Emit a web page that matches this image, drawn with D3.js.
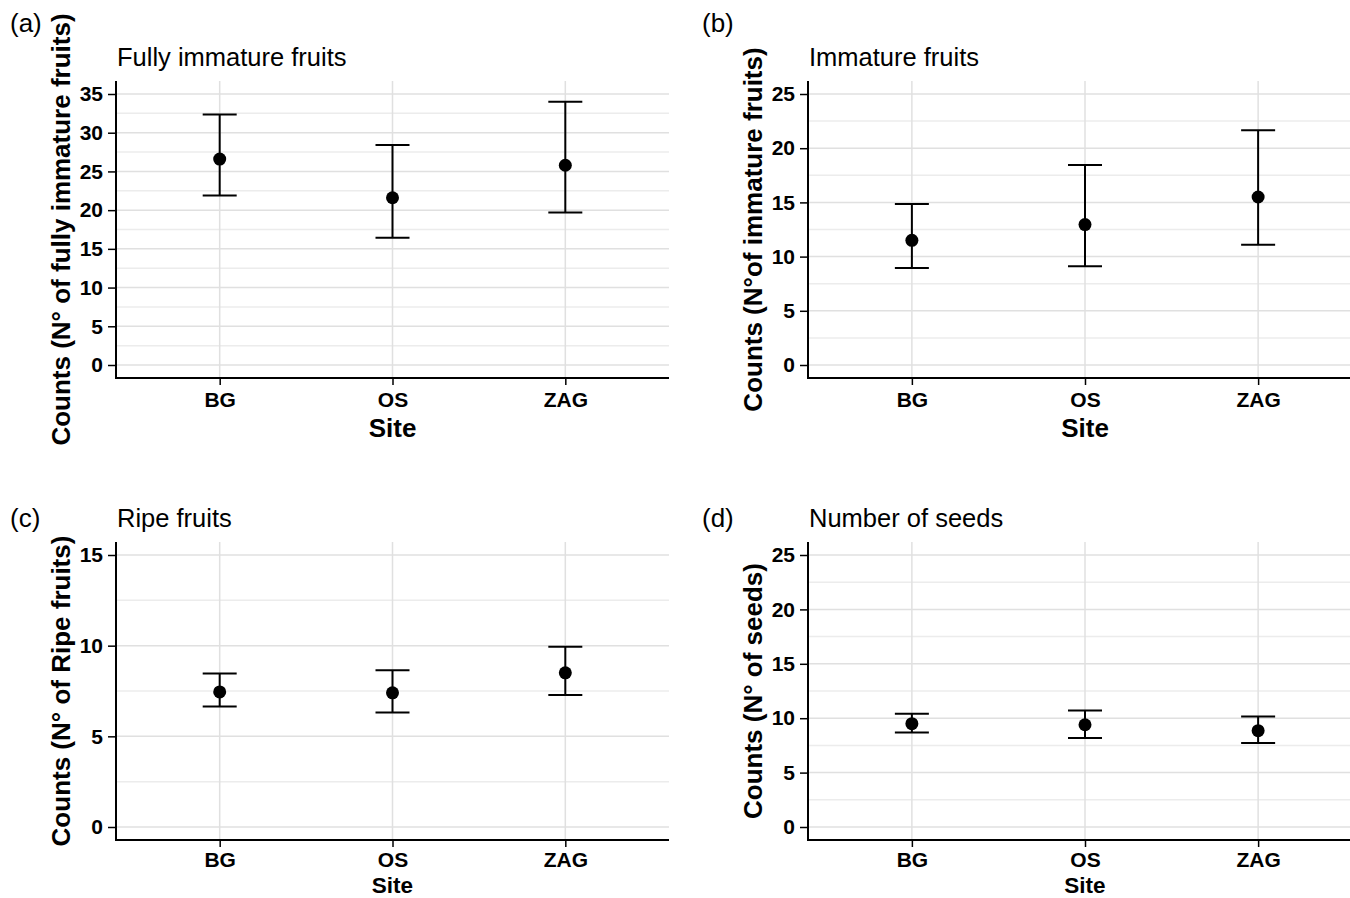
<!DOCTYPE html>
<html>
<head>
<meta charset="utf-8">
<script src="https://cdn.jsdelivr.net/npm/d3@7"></script>
<style>
  body { margin: 0; background: #fff; }
  svg { display: block; font-family: "Liberation Sans", Arial, Helvetica, sans-serif; }
</style>
</head>
<body>
<div id="chart-area"></div>
<script>
/* Fruit and seed counts by site, four panels */

// categories
const sites = ["BG", "OS", "ZAG"];

// panel texts
const panelTags = ["(a)", "(b)", "(c)", "(d)"];
const panelTitles = ["Fully immature fruits", "Immature fruits", "Ripe fruits", "Number of seeds"];
const yTitles = [
    "Counts (N° of fully immature fruits)",
    "Counts (N°of immature fruits)",
    "Counts (N° of Ripe fruits)",
    "Counts (N° of seeds)"
];
const xTitle = "Site";

// y tick labels per panel
const ticksA = [0, 5, 10, 15, 20, 25, 30, 35];
const ticksB = [0, 5, 10, 15, 20, 25];
const ticksC = [0, 5, 10, 15];
const ticksD = [0, 5, 10, 15, 20, 25];

// means and confidence limits (BG, OS, ZAG)
const meanA = [26.6, 21.6, 25.8];
const lowA = [21.9, 16.45, 19.7];
const highA = [32.35, 28.4, 34.0];

const meanB = [11.5, 12.95, 15.5];
const lowB = [8.95, 9.1, 11.1];
const highB = [14.85, 18.45, 21.65];

const meanC = [7.45, 7.4, 8.5];
const lowC = [6.65, 6.32, 7.28];
const highC = [8.47, 8.65, 9.94];

const meanD = [9.5, 9.4, 8.85];
const lowD = [8.68, 8.18, 7.72];
const highD = [10.42, 10.7, 10.15];

const panelTicks = [ticksA, ticksB, ticksC, ticksD];
const panelMeans = [meanA, meanB, meanC, meanD];
const panelLows = [lowA, lowB, lowC, lowD];
const panelHighs = [highA, highB, highC, highD];

// layout
const W = 1350, H = 898;
const frames = [
    { left: 116, right: 669, top: 81, bottom: 378, tagY: 32, siteY: 437, siteSize: 26, tickPad: 7 },
    { left: 808, right: 1362, top: 81, bottom: 378, tagY: 32, siteY: 437, siteSize: 26, tickPad: 7 },
    { left: 116, right: 669, top: 542, bottom: 840, tagY: 527, siteY: 893, siteSize: 22.5, tickPad: 5 },
    { left: 808, right: 1362, top: 542, bottom: 840, tagY: 527, siteY: 893, siteSize: 22.5, tickPad: 5 }
];
const PAD = 13;

const svg = d3.select("#chart-area").append("svg")
    .attr("width", W)
    .attr("height", H);

svg.append("rect")
    .attr("width", W)
    .attr("height", H)
    .attr("fill", "#fff");

frames.forEach((f, i) => {
    const ticks = panelTicks[i];
    const step = ticks[1] - ticks[0];
    const yMax = ticks[ticks.length - 1];

    const x = d3.scaleLinear()
        .domain([0.4, 3.6])
        .range([f.left, f.right]);

    const y = d3.scaleLinear()
        .domain([0, yMax])
        .range([f.bottom - PAD, f.top + PAD]);

    const g = svg.append("g");

    // minor grid (half steps)
    const minor = d3.range(step / 2, yMax, step);
    g.selectAll(".minor")
        .data(minor)
        .enter().append("line")
        .attr("x1", f.left).attr("x2", f.right)
        .attr("y1", d => y(d)).attr("y2", d => y(d))
        .attr("stroke", "#ececec")
        .attr("stroke-width", 1.5);

    // major grid
    g.selectAll(".major")
        .data(ticks)
        .enter().append("line")
        .attr("x1", f.left).attr("x2", f.right)
        .attr("y1", d => y(d)).attr("y2", d => y(d))
        .attr("stroke", "#e0e0e0")
        .attr("stroke-width", 1.5);

    // vertical grid at sites
    g.selectAll(".vgrid")
        .data(sites)
        .enter().append("line")
        .attr("x1", (d, k) => x(k + 1)).attr("x2", (d, k) => x(k + 1))
        .attr("y1", f.top).attr("y2", f.bottom)
        .attr("stroke", "#e0e0e0")
        .attr("stroke-width", 1.5);

    // y axis
    const yAxis = g.append("g")
        .attr("transform", `translate(${f.left},0)`)
        .call(d3.axisLeft(y).tickValues(ticks).tickSize(8).tickPadding(5));
    yAxis.select(".domain").remove();
    yAxis.selectAll("text")
        .attr("font-size", 21)
        .attr("font-weight", "bold")
        .attr("fill", "#000")
        .attr("font-family", "Liberation Sans, Arial, sans-serif");
    yAxis.selectAll("line").attr("stroke", "#000").attr("stroke-width", 1.5);

    // x axis
    const xAxis = g.append("g")
        .attr("transform", `translate(0,${f.bottom})`)
        .call(d3.axisBottom(x).tickValues([1, 2, 3])
            .tickFormat(d => sites[d - 1]).tickSize(7).tickPadding(f.tickPad));
    xAxis.select(".domain").remove();
    xAxis.selectAll("text")
        .attr("font-size", 21)
        .attr("font-weight", "bold")
        .attr("fill", "#000")
        .attr("font-family", "Liberation Sans, Arial, sans-serif");
    xAxis.selectAll("line").attr("stroke", "#000").attr("stroke-width", 1.5);

    // axis lines
    g.append("path")
        .attr("d", `M${f.left},${f.top}V${f.bottom}H${f.right}`)
        .attr("fill", "none")
        .attr("stroke", "#000")
        .attr("stroke-width", 2);

    // error bars
    const rows = sites.map((s, k) => ({
        pos: k + 1,
        mean: panelMeans[i][k],
        low: panelLows[i][k],
        high: panelHighs[i][k]
    }));

    const bars = g.selectAll(".bar")
        .data(rows)
        .enter().append("g");

    bars.append("line")
        .attr("x1", d => x(d.pos)).attr("x2", d => x(d.pos))
        .attr("y1", d => y(d.low)).attr("y2", d => y(d.high))
        .attr("stroke", "#000").attr("stroke-width", 2);
    bars.append("line")
        .attr("x1", d => x(d.pos) - 17).attr("x2", d => x(d.pos) + 17)
        .attr("y1", d => y(d.high)).attr("y2", d => y(d.high))
        .attr("stroke", "#000").attr("stroke-width", 2);
    bars.append("line")
        .attr("x1", d => x(d.pos) - 17).attr("x2", d => x(d.pos) + 17)
        .attr("y1", d => y(d.low)).attr("y2", d => y(d.low))
        .attr("stroke", "#000").attr("stroke-width", 2);
    bars.append("circle")
        .attr("cx", d => x(d.pos))
        .attr("cy", d => y(d.mean))
        .attr("r", 6.5)
        .attr("fill", "#000");

    // texts
    g.append("text")
        .attr("x", f.left - 106).attr("y", f.tagY)
        .attr("font-size", 26)
        .text(panelTags[i]);

    g.append("text")
        .attr("x", f.left + 1).attr("y", f.top - 15)
        .attr("font-size", 25.5)
        .text(panelTitles[i]);

    g.append("text")
        .attr("transform", `translate(${f.left - 46},${(f.top + f.bottom) / 2}) rotate(-90)`)
        .attr("text-anchor", "middle")
        .attr("font-size", 26)
        .attr("font-weight", "bold")
        .text(yTitles[i]);

    g.append("text")
        .attr("x", x(2)).attr("y", f.siteY)
        .attr("text-anchor", "middle")
        .attr("font-size", f.siteSize)
        .attr("font-weight", "bold")
        .text(xTitle);
});
</script>
</body>
</html>
